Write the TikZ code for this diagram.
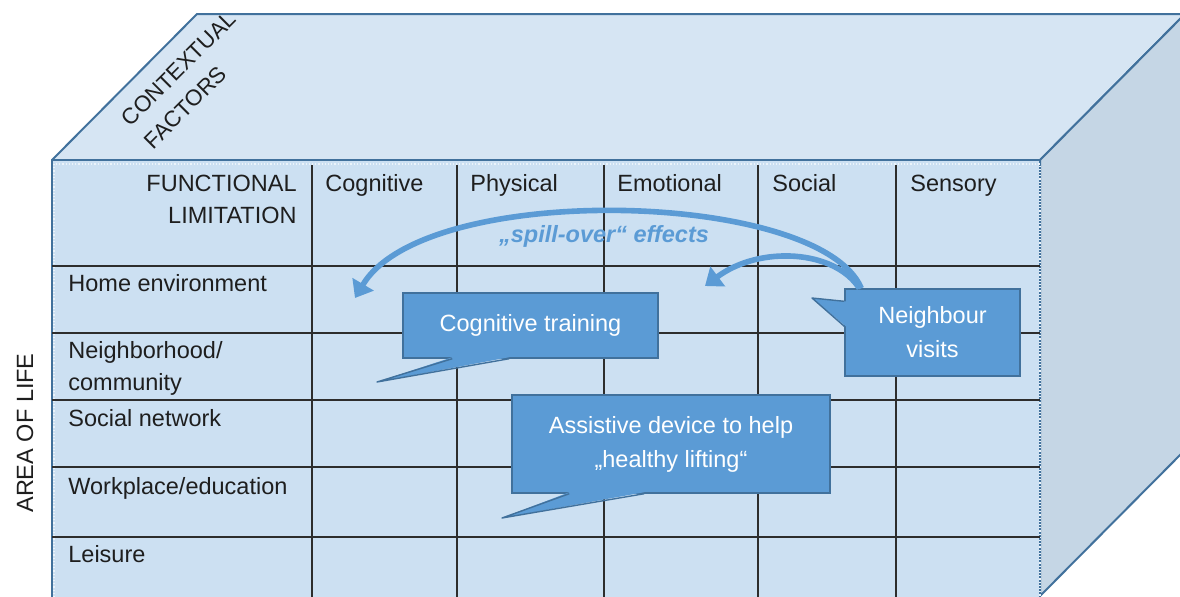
\documentclass[tikz,border=0pt]{standalone}
\usepackage{fontspec}
\setmainfont{Liberation Sans}
\usetikzlibrary{arrows.meta,calc}
\definecolor{faceBlue}{RGB}{204,224,242}
\definecolor{topBlue}{RGB}{214,229,243}
\definecolor{sideBlue}{RGB}{197,214,229}
\definecolor{edgeBlue}{RGB}{65,113,156}
\definecolor{boxBlue}{RGB}{91,155,213}
\definecolor{gridGray}{RGB}{45,45,45}
\definecolor{labelGray}{RGB}{30,30,30}

\begin{document}
\begin{tikzpicture}[x=0.5pt,y=-0.5pt,
        face/.style={draw=edgeBlue,line width=1pt,line join=round},
        gridline/.style={draw=gridGray,line width=0.7pt},
        lbl/.style={inner sep=0pt,text=labelGray,font=\fontsize{11.75}{16}\selectfont},
        bubble/.style={draw=edgeBlue,fill=boxBlue,line width=0.7pt,text=white,align=center,font=\fontsize{11.75}{17}\selectfont,inner sep=0pt},
        pointer/.style={draw=edgeBlue,line width=0.7pt,line join=round},
        spill/.style={draw=boxBlue,line width=2.8pt,-{Triangle[length=8pt,width=12pt]}}
      ]
        \clip (0,0) rectangle (1180,596);

        % box faces
        \fill[white] (0,0) rectangle (1180,596);
        \draw[face,fill=topBlue] (52,160) -- (197,14) -- (1185,14) -- (1040,160) -- cycle;
        \draw[face,fill=sideBlue] (1040,160) -- (1185,14) -- (1185,450) -- (1040,596) -- cycle;
        \draw[face,fill=faceBlue] (52,610) -- (52,160) -- (1040,160) -- (1040,610);
        \draw[white!60!faceBlue,densely dotted,line width=0.6pt] (54,610) -- (54,164) -- (1040,164) -- (1040,610);

        % table grid
        \draw[gridline] (52,266) -- (1040,266) (52,333) -- (1040,333) (52,400) -- (1040,400)
          (52,467) -- (1040,467) (52,537) -- (1040,537);
        \draw[gridline] (312,165) -- (312,610) (457,165) -- (457,610) (604,165) -- (604,610)
          (758,165) -- (758,610) (896,165) -- (896,610);

        \node[lbl,rotate=45,align=left,font=\fontsize{11.2}{16}\selectfont] (ctx) at (190,80) {CONTEXTUAL\\FACTORS};
        \node[lbl,rotate=90] (area) at (25,433) {AREA OF LIFE};
        \node[lbl,anchor=base east,align=right] (func) at (297,223) {FUNCTIONAL\\LIMITATION};

        \node[lbl,anchor=base west] (cogn) at (325,191) {Cognitive};
        \node[lbl,anchor=base west] (phys) at (470,191) {Physical};
        \node[lbl,anchor=base west] (emo) at (617,191) {Emotional};
        \node[lbl,anchor=base west] (soc) at (772,191) {Social};
        \node[lbl,anchor=base west] (sens) at (910,191) {Sensory};

        \node[lbl,anchor=base west] (home) at (68,291) {Home environment};
        \node[lbl,anchor=base west,align=left] (neigh) at (68,390) {Neighborhood/\\community};
        \node[lbl,anchor=base west] (net) at (68,426) {Social network};
        \node[lbl,anchor=base west] (work) at (68,494) {Workplace/education};
        \node[lbl,anchor=base west] (leis) at (68,562) {Leisure};

        % callouts
        \node[bubble,minimum width=127.5pt,minimum height=32.5pt] (cog) at (530.5,325.5) {Cognitive training};
        \node[bubble,minimum width=87.5pt,minimum height=43.5pt] (nbr) at (932.5,332.5) {Neighbour\\visits};
        \node[bubble,minimum width=159pt,minimum height=49pt] (assist) at (671,444) {Assistive device to help\\„healthy lifting“};

        \coordinate (cogtip) at (377,382);
        \coordinate (nbrtip) at (812,298);
        \coordinate (assisttip) at (502,518);
        \fill[boxBlue] ($(cog.south west)+(50,-1.5)$) -- (cogtip) -- ($(cog.south west)+(107,-1.5)$) -- cycle;
        \draw[pointer] ($(cog.south west)+(50,0)$) -- (cogtip) -- ($(cog.south west)+(107,0)$);
        \fill[boxBlue] ($(nbr.north west)+(1.5,13)$) -- (nbrtip) -- ($(nbr.north west)+(1.5,38)$) -- cycle;
        \draw[pointer] ($(nbr.north west)+(0,13)$) -- (nbrtip) -- ($(nbr.north west)+(0,38)$);
        \fill[boxBlue] ($(assist.south west)+(58,-1.5)$) -- (assisttip) -- ($(assist.south west)+(133,-1.5)$) -- cycle;
        \draw[pointer] ($(assist.south west)+(58,0)$) -- (assisttip) -- ($(assist.south west)+(133,0)$);

        % spill-over arrows
        \coordinate (bigtip) at (355,298);
        \coordinate (smalltip) at (705,286);
        \draw[spill] ($(nbr.north west)+(17,0)$) .. controls (820,190) and (425,180) .. (bigtip);
        \draw[spill] ($(nbr.north west)+(15,0)$) .. controls (835,250) and (760,245) .. (smalltip);
        \node[text=boxBlue,font=\fontsize{11.75}{14}\selectfont\bfseries\itshape] (spilltxt) at (604,236) {„spill-over“ effects};
      \end{tikzpicture}
\end{document}
